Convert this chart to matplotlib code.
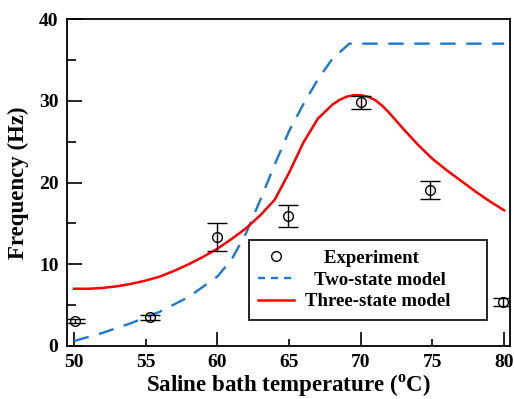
import matplotlib
matplotlib.use('Agg')
import matplotlib.pyplot as plt
from matplotlib.lines import Line2D
from matplotlib.ticker import FixedLocator, FormatStrFormatter

plt.rcParams['font.family'] = 'Liberation Serif'
plt.rcParams['font.weight'] = 'bold'
plt.rcParams['mathtext.fontset'] = 'custom'
plt.rcParams['mathtext.rm'] = 'Liberation Serif:bold'
plt.rcParams['mathtext.bf'] = 'Liberation Serif:bold'

# Experimental data
exp_t = [50.1, 55.3, 60.0, 64.9, 70.0, 74.8, 79.9]
exp_f = [3.0, 3.5, 13.3, 15.9, 29.8, 19.1, 5.4]
exp_err = [0.25, 0.3, 1.7, 1.3, 0.75, 1.1, 0.5]

# Two-state model
two_t = [50, 52, 54, 56, 58, 60, 61, 62, 63, 64, 65, 66, 67, 68, 69.2, 70, 75, 80]
two_f = [0.6, 1.6, 2.8, 4.2, 6.0, 8.5, 10.6, 13.8, 17.9, 22.2, 26.3, 29.6, 32.6, 35.1, 37.0, 37.0, 37.0, 37.0]

# Three-state model
three_t = [50, 51, 52, 53, 54, 55, 56, 57, 58, 59, 60, 61, 62, 63, 64, 65, 66, 67, 68,
           68.5, 69, 69.5, 70, 70.5, 71, 71.5, 72, 73, 74, 75, 76, 77, 78, 79, 80]
three_f = [7.0, 7.0, 7.1, 7.3, 7.6, 8.0, 8.5, 9.2, 10.0, 10.9, 11.9, 13.1, 14.4, 16.0, 17.9,
           21.2, 24.9, 27.8, 29.5, 30.1, 30.5, 30.7, 30.7, 30.5, 30.1, 29.4, 28.5, 26.5, 24.6,
           22.9, 21.5, 20.2, 18.9, 17.7, 16.6]

labels = ['    Experiment', '  Two-state model', 'Three-state model']

fig = plt.figure(figsize=(5.14, 3.99), dpi=100)
ax = fig.add_axes([0.130, 0.133, 0.862, 0.819])

ax.errorbar(exp_t, exp_f, yerr=exp_err, fmt='o', mfc='none', mec='black', ms=7, mew=1,
            ecolor='black', elinewidth=1, capsize=7, capthick=1, zorder=3)
l2, = ax.plot(two_t, two_f, color='#1a78d2', lw=1.7)
l2.set_dashes([6.5, 4.5])
ax.plot(three_t, three_f, color='red', lw=1.8)

ax.set_xlim(49.5, 80.4)
ax.set_ylim(0, 40)

ax.xaxis.set_major_locator(FixedLocator([50, 60, 70, 80]))
ax.xaxis.set_minor_locator(FixedLocator([55, 65, 75]))
ax.xaxis.set_major_formatter(FormatStrFormatter('%d'))
ax.xaxis.set_minor_formatter(FormatStrFormatter('%d'))
ax.yaxis.set_major_locator(FixedLocator([0, 10, 20, 30, 40]))
ax.yaxis.set_minor_locator(FixedLocator([5, 15, 25, 35]))

ax.tick_params(axis='both', which='both', direction='in', labelsize=14, width=1.2, pad=6)
ax.tick_params(axis='x', which='major', length=10)
ax.tick_params(axis='x', which='minor', length=5)
ax.tick_params(axis='y', which='major', length=11)
ax.tick_params(axis='y', which='minor', length=6.5)
for lab in ax.get_xticklabels(which='both') + ax.get_yticklabels():
    lab.set_fontweight('bold')

for s in ax.spines.values():
    s.set_linewidth(1.3)

ax.set_xlabel('Saline bath temperature ($^{\\mathrm{o}}$C)', fontsize=16.5, fontweight='bold', labelpad=1)
ax.set_ylabel('Frequency (Hz)', fontsize=16.5, fontweight='bold', labelpad=7)

# legend with marker-only / short-dash handles
h_exp = Line2D([], [], linestyle='none', marker='o', mfc='none', mec='black', ms=7, mew=1)
h_two = Line2D([], [], color='#1a78d2', lw=1.7, dashes=[3, 2.5])
h_three = Line2D([], [], color='red', lw=1.8)
leg = ax.legend([h_exp, h_two, h_three], labels,
                loc='lower left', bbox_to_anchor=(0.411, 0.08, 0.537, 0.245), mode='expand',
                borderaxespad=0, fontsize=13.5, frameon=True, fancybox=False, framealpha=1,
                handlelength=1.9, borderpad=0.5, labelspacing=0.25, handletextpad=0.6)
leg.get_frame().set_edgecolor('black')
leg.get_frame().set_linewidth(1.2)
for t in leg.get_texts():
    t.set_fontweight('bold')

fig.savefig('out.png', dpi=100)
